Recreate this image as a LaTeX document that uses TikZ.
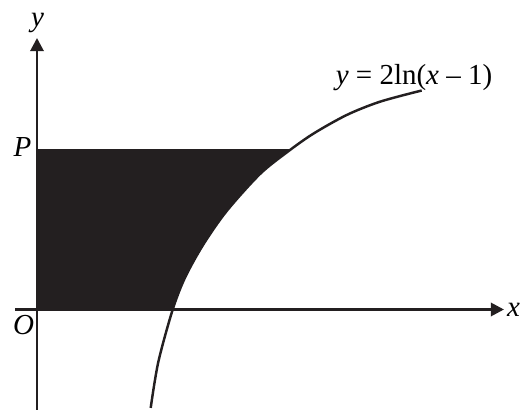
\documentclass[tikz,border=0pt]{standalone}
\usepackage{fontspec}
\setmainfont{Liberation Serif}
\usetikzlibrary{arrows.meta}
\definecolor{ink}{RGB}{35,31,32}

\begin{document}
\begin{tikzpicture}[scale=1,
  axis/.style={line width=1.6pt,ink,-{Triangle[length=7.5pt,width=7.5pt]}},
  curve/.style={line width=1.4pt,ink},
  lbl/.style={font=\fontsize{16.5}{18}\selectfont,inner sep=0pt}]
\useasboundingbox (-0.74,-2.01) rectangle (9.68,6.19);
\def\lncurve{(2.274,-1.968) (2.426,-1.05) (2.714,0) (2.96,0.638) (3.326,1.30) (3.794,1.97) (4.46,2.71) (5.02,3.16) (5.526,3.516) (6.194,3.89) (6.86,4.156) (7.694,4.38)}
% shaded area between the axes, the curve and y = P
\begin{scope}
\clip (0,0) rectangle (9,3.20);
\fill[ink] (0,-2) -- plot[smooth] coordinates {\lncurve} -- (0,4.4) -- cycle;
\end{scope}
\coordinate (xs) at (-0.44,0);
\coordinate (xe) at (9.34,0);
\coordinate (ys) at (0,-2.01);
\coordinate (ye) at (0,5.43);
\draw[axis] (xs) -- (xe);
\draw[axis] (ys) -- (ye);
% y = 2ln(x-1)
\draw[curve] plot[smooth] coordinates {\lncurve};
\node[lbl] (ylbl) at (0.01,5.74) {\textit{y}};
\node[lbl] (xlbl) at (9.53,0) {\textit{x}};
\node[lbl] (plbl) at (-0.29,3.24) {\textit{P}};
\node[lbl] (olbl) at (-0.27,-0.31) {\textit{O}};
\node[lbl] (eqlbl) at (7.54,4.63) {\textit{y} = 2ln(\textit{x} – 1)};
\end{tikzpicture}
\end{document}
